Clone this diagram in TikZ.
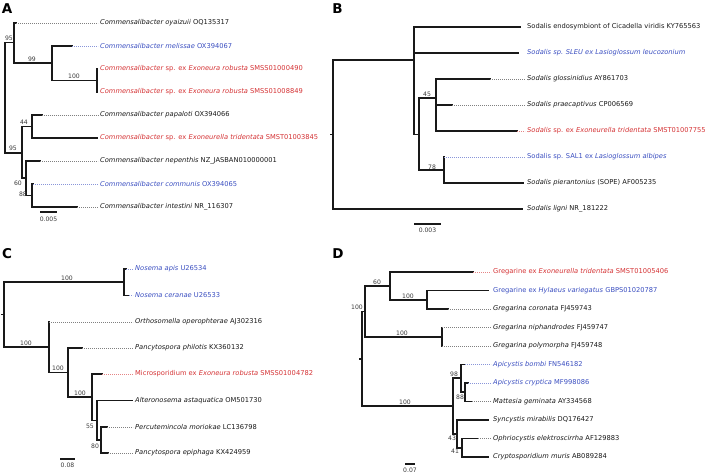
\documentclass[tikz,border=0pt]{standalone}
\usepackage{fontspec}
\setmainfont{DejaVu Sans}
\usepackage{tikz}
\usetikzlibrary{positioning}
\definecolor{leafred}{RGB}{212,50,52}
\definecolor{leafblue}{RGB}{58,78,192}
\definecolor{ink}{RGB}{25,25,25}
\tikzset{
  branch/.style={draw=ink, line width=1.7pt, line cap=rect},
  tipline/.style={draw=#1, line width=0.55pt, dash pattern=on 0.8pt off 1.2pt, shorten >=2pt},
  tipline/.default={black!50},
  leaf/.style={anchor=west, inner xsep=0pt, inner ysep=1pt, text=ink, font=\fontsize{6.7}{8}\selectfont},
  redleaf/.style={leaf, text=leafred},
  blueleaf/.style={leaf, text=leafblue},
  boot/.style={inner sep=0pt, text=ink!85, font=\fontsize{6.1}{7}\selectfont},
  panel/.style={inner sep=0pt, font=\fontsize{13.5}{13.5}\bfseries\selectfont},
  scalebar/.style={draw=ink, line width=1.7pt}
}

\begin{document}
\begin{tikzpicture}[x=1pt, y=-1pt]
  \useasboundingbox (0,0) rectangle (709,474);

  % A: Commensalibacter
  \node[panel] (pA) at (7,9) {A};
  \coordinate (ra) at (4.7,97.5);
  \coordinate (a1) at (14,42.5);
  \coordinate (a2) at (52,63);
  \coordinate (a3) at (97,80.5);
  \coordinate (a4) at (21.7,153);
  \coordinate (a5) at (31.7,126.5);
  \coordinate (a6) at (26,178);
  \coordinate (a7) at (32,195.5);
  \coordinate (ta1) at (16,23);
  \coordinate (ta2) at (72,46);
  \coordinate (ta3) at (97,69);
  \coordinate (ta4) at (97,92);
  \coordinate (ta5) at (41.7,115);
  \coordinate (ta6) at (96.7,138);
  \coordinate (ta7) at (40,161);
  \coordinate (ta8) at (33,184);
  \coordinate (ta9) at (77,207);
  \foreach \p/\c in {ra/a1, ra/a4, a1/ta1, a1/a2, a2/ta2, a2/a3, a3/ta3, a3/ta4,
                     a4/a5, a4/a6, a5/ta5, a5/ta6, a6/ta7, a6/a7, a7/ta8, a7/ta9}
    \draw[branch] (\p) |- (\c);

  \node[leaf] (la1) at (100,23) {\textit{Commensalibacter oyaizuii} OQ135317};
  \node[blueleaf] (la2) at (100,46) {\textit{Commensalibacter melissae} OX394067};
  \node[redleaf] (la3) at (100,69) {\textit{Commensalibacter} sp. ex \textit{Exoneura robusta} SMSS01000490};
  \node[redleaf] (la4) at (100,92) {\textit{Commensalibacter} sp. ex \textit{Exoneura robusta} SMSS01008849};
  \node[leaf] (la5) at (100,115) {\textit{Commensalibacter papaloti} OX394066};
  \node[redleaf] (la6) at (100,138) {\textit{Commensalibacter} sp. ex \textit{Exoneurella tridentata} SMST01003845};
  \node[leaf] (la7) at (100,161) {\textit{Commensalibacter nepenthis} NZ\_JASBAN010000001};
  \node[blueleaf] (la8) at (100,184) {\textit{Commensalibacter communis} OX394065};
  \node[leaf] (la9) at (100,207) {\textit{Commensalibacter intestini} NR\_116307};
  \foreach \t/\l in {ta1/la1, ta5/la5, ta7/la7, ta9/la9}
    \draw[tipline] (\t) -- (\l.west);
  \draw[tipline=leafblue!60] (ta2) -- (la2.west);
  \draw[tipline=leafblue!60] (ta8) -- (la8.west);

  \node[boot] (bA1) at (9,38) {95};
  \node[boot] (bA2) at (32,59) {99};
  \node[boot] (bA3) at (74,76) {100};
  \node[boot] (bA4) at (24,122) {44};
  \node[boot] (bA5) at (13,148) {95};
  \node[boot] (bA6) at (18,183) {60};
  \node[boot] (bA7) at (23,194) {88};

  \coordinate (sA1) at (40,212);
  \coordinate (sA2) at (57,212);
  \draw[scalebar] (sA1) -- (sA2);
  \node[boot] (sAt) at (48.5,219) {0.005};

  % B: Sodalis
  \node[panel] (pB) at (337.5,9) {B};
  \coordinate (rb) at (333,134.5);
  \coordinate (b1) at (414,60);
  \coordinate (b2) at (419,134.5);
  \coordinate (b3) at (436,98);
  \coordinate (b4) at (444,170);
  \coordinate (tb1) at (520,27);
  \coordinate (tb2) at (518,53);
  \coordinate (tb3) at (490,79);
  \coordinate (tb4) at (452,105);
  \coordinate (tb5) at (517,131);
  \coordinate (tb6) at (444,157);
  \coordinate (tb7) at (523,183);
  \coordinate (tb8) at (522,209);
  \foreach \p/\c in {rb/b1, rb/tb8, b1/tb1, b1/tb2, b1/b2, b2/b3, b2/b4,
                     b3/tb3, b3/tb4, b3/tb5, b4/tb6, b4/tb7}
    \draw[branch] (\p) |- (\c);
  \draw[branch] (rb) -- ++(-2,0);

  \node[leaf] (lb1) at (527,27) {Sodalis endosymbiont of Cicadella viridis KY765563};
  \node[blueleaf] (lb2) at (527,53) {\textit{Sodalis sp. SLEU ex Lasioglossum leucozonium}};
  \node[leaf] (lb3) at (527,79) {\textit{Sodalis glossinidius} AY861703};
  \node[leaf] (lb4) at (527,105) {\textit{Sodalis praecaptivus} CP006569};
  \node[redleaf] (lb5) at (527,131) {\textit{Sodalis} sp. ex \textit{Exoneurella tridentata} SMST01007755};
  \node[blueleaf] (lb6) at (527,157) {Sodalis sp. SAL1 ex \textit{Lasioglossum albipes}};
  \node[leaf] (lb7) at (527,183) {\textit{Sodalis pierantonius} (SOPE) AF005235};
  \node[leaf] (lb8) at (527,209) {\textit{Sodalis ligni} NR\_181222};
  \foreach \t/\l in {tb3/lb3, tb4/lb4}
    \draw[tipline] (\t) -- (\l.west);
  \draw[tipline=leafred!60] (tb5) -- (lb5.west);
  \draw[tipline=leafblue!60] (tb6) -- (lb6.west);

  \node[boot] (bB1) at (427,94) {45};
  \node[boot] (bB2) at (432,167) {78};

  \coordinate (sB1) at (414,224);
  \coordinate (sB2) at (441,224);
  \draw[scalebar] (sB1) -- (sB2);
  \node[boot] (sBt) at (427.5,230) {0.003};

  % C: Microsporidia
  \node[panel] (pC) at (7,253.5) {C};
  \coordinate (rc) at (4,314.5);
  \coordinate (c1) at (124,282);
  \coordinate (c2) at (49,347);
  \coordinate (c3) at (68,372.5);
  \coordinate (c4) at (92,397);
  \coordinate (c5) at (97,420.5);
  \coordinate (c6) at (101,440);
  \coordinate (tc1) at (126,269);
  \coordinate (tc2) at (129,295.5);
  \coordinate (tc3) at (49,322);
  \coordinate (tc4) at (82,348);
  \coordinate (tc5) at (102,374);
  \coordinate (tc6) at (132,400.5);
  \coordinate (tc7) at (107,427);
  \coordinate (tc8) at (108,453);
  \foreach \p/\c in {rc/c1, rc/c2, c1/tc1, c1/tc2, c2/tc3, c2/c3, c3/tc4, c3/c4,
                     c4/tc5, c4/c5, c5/tc6, c5/c6, c6/tc7, c6/tc8}
    \draw[branch] (\p) |- (\c);
  \draw[branch] (rc) -- ++(-2,0);

  \node[blueleaf] (lc1) at (135,269) {\textit{Nosema apis} U26534};
  \node[blueleaf] (lc2) at (135,295.5) {\textit{Nosema ceranae} U26533};
  \node[leaf] (lc3) at (135,322) {\textit{Orthosomella operophterae} AJ302316};
  \node[leaf] (lc4) at (135,348) {\textit{Pancytospora philotis} KX360132};
  \node[redleaf] (lc5) at (135,374) {Microsporidium ex \textit{Exoneura robusta} SMSS01004782};
  \node[leaf] (lc6) at (135,400.5) {\textit{Alteronosema astaquatica} OM501730};
  \node[leaf] (lc7) at (135,427) {\textit{Percutemincola moriokae} LC136798};
  \node[leaf] (lc8) at (135,453) {\textit{Pancytospora epiphaga} KX424959};
  \foreach \t/\l in {tc3/lc3, tc4/lc4, tc7/lc7, tc8/lc8}
    \draw[tipline] (\t) -- (\l.west);
  \draw[tipline=leafblue!60] (tc1) -- (lc1.west);
  \draw[tipline=leafblue!60] (tc2) -- (lc2.west);
  \draw[tipline=leafred!60] (tc5) -- (lc5.west);

  \node[boot] (bC1) at (67,278) {100};
  \node[boot] (bC2) at (26,343) {100};
  \node[boot] (bC3) at (58,368) {100};
  \node[boot] (bC4) at (80,393) {100};
  \node[boot] (bC5) at (90,426) {55};
  \node[boot] (bC6) at (95,446) {80};

  \coordinate (sC1) at (60,459);
  \coordinate (sC2) at (75,459);
  \draw[scalebar] (sC1) -- (sC2);
  \node[boot] (sCt) at (67.5,465) {0.08};

  % D: Gregarines
  \node[panel] (pD) at (338,253.5) {D};
  \coordinate (rd) at (362,359);
  \coordinate (d1) at (365,311.5);
  \coordinate (d2) at (390,286);
  \coordinate (d3) at (427,300);
  \coordinate (d4) at (442,337);
  \coordinate (d5) at (453,406);
  \coordinate (d6) at (461,378);
  \coordinate (d7) at (465,392);
  \coordinate (d8) at (457,434);
  \coordinate (d9) at (462,448);
  \coordinate (td1) at (473,272);
  \coordinate (td2) at (488,290.5);
  \coordinate (td3) at (448,309);
  \coordinate (td4) at (442,327.5);
  \coordinate (td5) at (442,346);
  \coordinate (td6) at (465,364.5);
  \coordinate (td7) at (468,383);
  \coordinate (td8) at (472,401.5);
  \coordinate (td9) at (488,420);
  \coordinate (td10) at (478,438.5);
  \coordinate (td11) at (488,457);
  \foreach \p/\c in {rd/d1, rd/d5, d1/d2, d1/d4, d2/td1, d2/d3, d3/td2, d3/td3,
                     d4/td4, d4/td5, d5/d6, d5/d8, d6/td6, d6/d7, d7/td7, d7/td8,
                     d8/td9, d8/d9, d9/td10, d9/td11}
    \draw[branch] (\p) |- (\c);
  \draw[branch] (rd) -- ++(-2,0);

  \node[redleaf] (ld1) at (493,272) {Gregarine ex \textit{Exoneurella tridentata} SMST01005406};
  \node[blueleaf] (ld2) at (493,290.5) {Gregarine ex \textit{Hylaeus variegatus} GBPS01020787};
  \node[leaf] (ld3) at (493,309) {\textit{Gregarina coronata} FJ459743};
  \node[leaf] (ld4) at (493,327.5) {\textit{Gregarina niphandrodes} FJ459747};
  \node[leaf] (ld5) at (493,346) {\textit{Gregarina polymorpha} FJ459748};
  \node[blueleaf] (ld6) at (493,364.5) {\textit{Apicystis bombi} FN546182};
  \node[blueleaf] (ld7) at (493,383) {\textit{Apicystis cryptica} MF998086};
  \node[leaf] (ld8) at (493,401.5) {\textit{Mattesia geminata} AY334568};
  \node[leaf] (ld9) at (493,420) {\textit{Syncystis mirabilis} DQ176427};
  \node[leaf] (ld10) at (493,438.5) {\textit{Ophriocystis elektroscirrha} AF129883};
  \node[leaf] (ld11) at (493,457) {\textit{Cryptosporidium muris} AB089284};
  \foreach \t/\l in {td3/ld3, td4/ld4, td5/ld5, td8/ld8, td10/ld10}
    \draw[tipline] (\t) -- (\l.west);
  \draw[tipline=leafred!60] (td1) -- (ld1.west);
  \draw[tipline=leafblue!60] (td6) -- (ld6.west);
  \draw[tipline=leafblue!60] (td7) -- (ld7.west);

  \node[boot] (bD1) at (357,307) {100};
  \node[boot] (bD2) at (377,282) {60};
  \node[boot] (bD3) at (408,296) {100};
  \node[boot] (bD4) at (402,333) {100};
  \node[boot] (bD5) at (405,402) {100};
  \node[boot] (bD6) at (454,374) {98};
  \node[boot] (bD7) at (460,397) {88};
  \node[boot] (bD8) at (452,438) {43};
  \node[boot] (bD9) at (455,451) {41};

  \coordinate (sD1) at (405,464);
  \coordinate (sD2) at (415,464);
  \draw[scalebar] (sD1) -- (sD2);
  \node[boot] (sDt) at (410,470) {0.07};
\end{tikzpicture}
\end{document}
